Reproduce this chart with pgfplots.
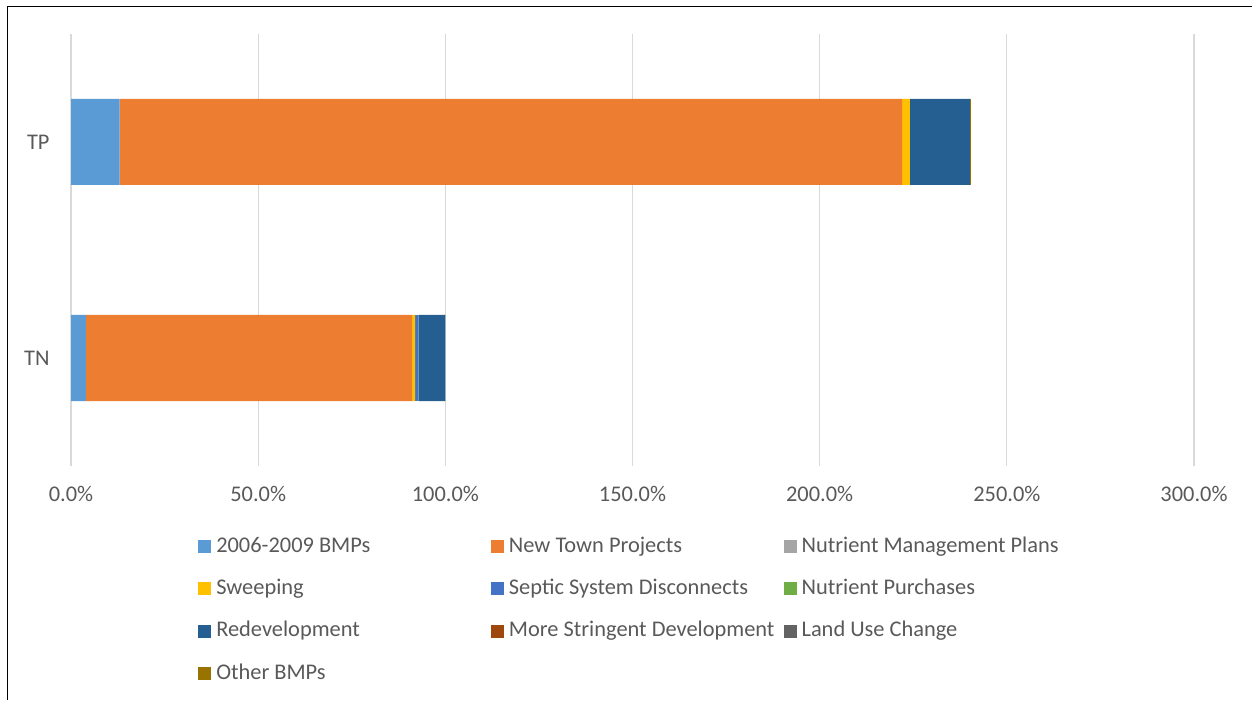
\documentclass[border=0pt]{standalone}
\usepackage{pgfplots}
\pgfplotsset{compat=1.18}
\usepackage{fontspec}
\setmainfont{Carlito}
\definecolor{txt}{HTML}{595959}
\definecolor{grd}{HTML}{D9D9D9}
\definecolor{c1}{HTML}{5B9BD5}
\definecolor{c2}{HTML}{ED7D31}
\definecolor{c3}{HTML}{A5A5A5}
\definecolor{c4}{HTML}{FFC000}
\definecolor{c5}{HTML}{4472C4}
\definecolor{c6}{HTML}{70AD47}
\definecolor{c7}{HTML}{255E91}
\definecolor{c8}{HTML}{9E480E}
\definecolor{c9}{HTML}{636363}
\definecolor{c10}{HTML}{997300}
\newcommand{\lb}[1]{\makebox[206pt][l]{#1}}
\begin{document}
\fontsize{16.8}{20}\selectfont
\begin{tikzpicture}
\useasboundingbox (0,0) rectangle (939pt,525pt);
\draw[black,line width=1.1pt] (5.6pt,0) -- (5.6pt,520.3pt) -- (939pt,520.3pt);
\begin{axis}[
  at={(53.25pt,175.5pt)}, anchor=south west,
  scale only axis, width=842.25pt, height=324pt,
  xbar stacked, bar width=64.5pt,
  xmin=0, xmax=300, ymin=-0.5, ymax=1.5,
  xtick={0,50,100,150,200,250,300},
  xticklabels={0.0\%,50.0\%,100.0\%,150.0\%,200.0\%,250.0\%,300.0\%},
  ytick={0,1}, yticklabels={TN,TP},
  xmajorgrids, grid style={grd, line width=0.9pt},
  axis line style={draw=none}, major tick length=0pt,
  tick label style={font=\fontsize{16.8}{20}\selectfont, text=txt},
  xticklabel style={yshift=-9.5pt},
  yticklabel style={xshift=-10.3pt},
  legend columns=3,
  legend image code/.code={\fill[#1] (0pt,-4.875pt) rectangle (9.75pt,4.875pt);},
  legend style={draw=none, fill=none, at={(0.1131,-0.162)}, anchor=north west,
    inner sep=0pt, row sep=16.15pt, font=\fontsize{16.8}{20}\selectfont, text=txt,
    nodes={inner sep=0pt, text height=12pt, text depth=3.6pt},
    /tikz/every odd column/.append style={column sep=3.75pt}},
  legend cell align=left,
]
\addplot[fill=c1, draw=none] coordinates {(4.0,0) (13.0,1)};
\addlegendentry{\lb{2006-2009 BMPs}}
\addplot[fill=c2, draw=none] coordinates {(87.1,0) (209.0,1)};
\addlegendentry{\lb{New Town Projects}}
\addplot[fill=c3, draw=none] coordinates {(0,0) (0,1)};
\addlegendentry{Nutrient Management Plans}
\addplot[fill=c4, draw=none] coordinates {(0.8,0) (2.1,1)};
\addlegendentry{\lb{Sweeping}}
\addplot[fill=c5, draw=none] coordinates {(0.9,0) (0,1)};
\addlegendentry{\lb{Septic System Disconnects}}
\addplot[fill=c6, draw=none] coordinates {(0,0) (0,1)};
\addlegendentry{Nutrient Purchases}
\addplot[fill=c7, draw=none] coordinates {(7.2,0) (16.0,1)};
\addlegendentry{\lb{Redevelopment}}
\addplot[fill=c8, draw=none] coordinates {(0,0) (0,1)};
\addlegendentry{\lb{More Stringent Development}}
\addplot[fill=c9, draw=none] coordinates {(0,0) (0,1)};
\addlegendentry{Land Use Change}
\addplot[fill=c10, draw=none] coordinates {(0,0) (0.2,1)};
\addlegendentry{\lb{Other BMPs}}
\end{axis}
\end{tikzpicture}
\end{document}
